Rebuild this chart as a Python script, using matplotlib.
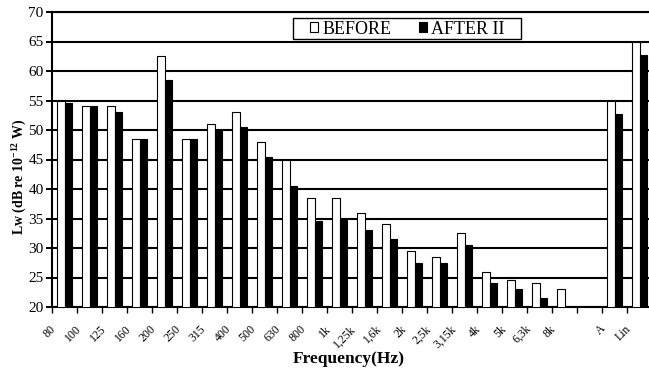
import numpy as np
import matplotlib.pyplot as plt
import matplotlib.transforms as mtransforms
from matplotlib.patches import Patch, Rectangle

plt.rcParams['font.family'] = ['Liberation Serif', 'DejaVu Serif']
plt.rcParams['mathtext.fontset'] = 'custom'
plt.rcParams['mathtext.rm'] = 'Liberation Serif'
plt.rcParams['mathtext.bf'] = 'Liberation Serif:bold'

# frequency bands (last slot blank, then overall A / Lin)
labels = ['80', '100', '125', '160', '200', '250', '315', '400', '500', '630',
          '800', '1k', '1,25k', '1,6k', '2k', '2,5k', '3,15k', '4k', '5k',
          '6,3k', '8k', '', 'A', 'Lin']
before = [55, 54, 54, 48.5, 62.5, 48.5, 51, 53, 48, 45,
          38.5, 38.5, 36, 34, 29.5, 28.5, 32.5, 26, 24.5,
          24, 23, np.nan, 55, 65]
after = [54.5, 54, 53, 48.5, 58.5, 48.5, 50, 50.5, 45.5, 40.5,
         34.5, 35, 33, 31.5, 27.5, 27.5, 30.5, 24, 23,
         21.5, np.nan, np.nan, 52.7, 62.7]

fig = plt.figure(figsize=(6.49, 3.75), dpi=100)
# axes runs a little past the right edge, like the cropped original
ax = fig.add_axes([52/649, 1-307/375, 600/649, 295/375])

x = np.arange(len(labels)) + 0.5
w = 0.3
ax.bar(x - w/2, before, w, color='white', edgecolor='black', linewidth=0.8, zorder=3)
ax.bar(x + w/2, after, w, color='black', edgecolor='black', linewidth=0.8, zorder=3)

ax.set_xlim(0, len(labels))
ax.set_ylim(20, 70)
ax.set_yticks(np.arange(20, 71, 5))
ax.yaxis.grid(True, color='black', linewidth=1.5)
ax.set_axisbelow(True)

ax.set_xticks(x)
ax.set_xticklabels(labels, rotation=45, ha='right', va='top', fontsize=8.5)
ax.set_xticks(np.arange(0, len(labels) + 1), minor=True)
ax.tick_params(axis='x', which='major', length=0, pad=11.5)
ax.tick_params(axis='x', which='minor', length=4, width=1, direction='out')
ax.tick_params(axis='y', length=4, width=1.4, direction='out', pad=2, labelsize=11)
# shift rotated labels a bit to the left of the band centre
shift = mtransforms.ScaledTranslation(-6/100, 0, fig.dpi_scale_trans)
for lab in ax.get_xticklabels():
    lab.set_transform(lab.get_transform() + shift)

for s in ['left', 'top', 'bottom']:
    ax.spines[s].set_linewidth(1.5)
ax.spines['right'].set_visible(False)

fig.text(19/649, 1-177/375, r'Lw (dB re 10$^{\mathbf{-12}}$ W)', rotation=90,
         ha='center', va='center', fontsize=10, fontweight='bold')
fig.text(349/649, 1-359/375, 'Frequency(Hz)', ha='center', va='center',
         fontsize=12.5, fontweight='bold')

# legend: tight vertically, wide horizontally -> own frame
fig.patches.append(Rectangle((293/649, 1-39/375), 228/649, 21/375,
                             transform=fig.transFigure, facecolor='white',
                             edgecolor='black', linewidth=1, zorder=5))
handles = [Patch(facecolor='white', edgecolor='black', linewidth=0.8),
           Patch(facecolor='black', edgecolor='black', linewidth=0.8)]
leg = fig.legend(handles, ['BEFORE', 'AFTER II'], ncol=2, loc='center left',
                 bbox_to_anchor=(310/649, 1-29/375), bbox_transform=fig.transFigure,
                 fontsize=13, frameon=False, borderpad=0,
                 handlelength=0.45, handleheight=0.45, handletextpad=0.25,
                 columnspacing=1.5, borderaxespad=0)
leg.set_zorder(6)

fig.savefig('out.png', dpi=100)
